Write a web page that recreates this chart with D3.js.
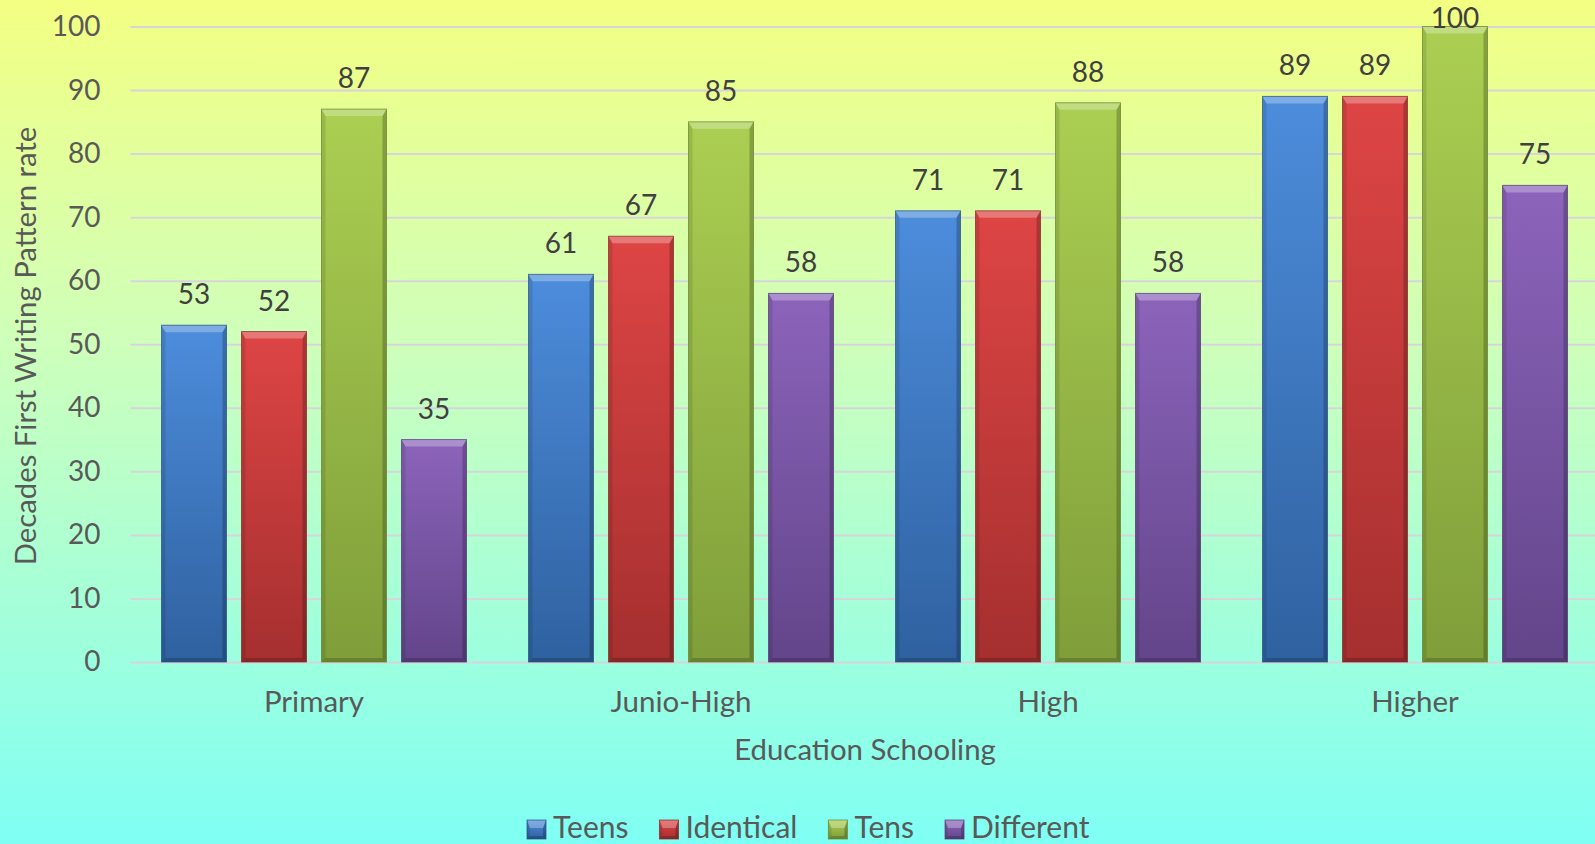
<!DOCTYPE html>
<html>
<head>
<meta charset="utf-8">
<script src="https://cdn.jsdelivr.net/npm/d3@7"></script>
<style>
	html, body { margin: 0; padding: 0; }
	body { width: 1595px; height: 844px; overflow: hidden; }
	svg { display: block; font-family: Lato, "Open Sans", sans-serif; }
</style>
</head>
<body>
<div id="chart"></div>
<script>
"use strict";

// données
const categories = ["Primary", "Junio-High", "High", "Higher"];
const series = ["Teens", "Identical", "Tens", "Different"];
const teens = [53, 61, 71, 89];
const identical = [52, 67, 71, 89];
const tens = [87, 85, 88, 100];
const different = [35, 58, 58, 75];
const yTicks = [0, 10, 20, 30, 40, 50, 60, 70, 80, 90, 100];

const valeurs = [teens, identical, tens, different];
const couleurs = {
	Teens: ["#4d8ddc", "#2f619f"],
	Identical: ["#de4545", "#a52f2f"],
	Tens: ["#abcf52", "#7f9e3a"],
	Different: ["#8c64bb", "#63458a"]
};

const W = 1595, H = 844;
const marge = { left: 130.5, right: 1598.5, top: 26.5, bas: 662 };

const svg = d3.select("#chart").append("svg")
	.attr("width", W)
	.attr("height", H);

const defs = svg.append("defs");

// fond dégradé jaune -> cyan
const fond = defs.append("linearGradient")
	.attr("id", "fond")
	.attr("x1", 0).attr("y1", 0).attr("x2", 0).attr("y2", 1);
fond.append("stop").attr("offset", "0%").attr("stop-color", "#f3ff82");
fond.append("stop").attr("offset", "40%").attr("stop-color", "#cfffba");
fond.append("stop").attr("offset", "100%").attr("stop-color", "#7ffff4");

series.forEach(s => {
	const g = defs.append("linearGradient")
		.attr("id", "grad-" + s)
		.attr("x1", 0).attr("y1", 0).attr("x2", 0).attr("y2", 1);
	g.append("stop").attr("offset", "0%").attr("stop-color", couleurs[s][0]);
	g.append("stop").attr("offset", "100%").attr("stop-color", couleurs[s][1]);
});

svg.append("rect")
	.attr("width", W)
	.attr("height", H)
	.attr("fill", "url(#fond)");

// échelles
const x0 = d3.scaleBand()
	.domain(categories)
	.range([marge.left, marge.right]);

const x1 = d3.scaleBand()
	.domain(series)
	.range([0, x0.bandwidth()])
	.paddingInner(0.1875)
	.paddingOuter(0.3875);

const y = d3.scaleLinear()
	.domain([0, 100])
	.range([marge.bas, marge.top]);

// grille + graduations
const gY = svg.append("g")
	.attr("transform", "translate(" + marge.left + ",0)")
	.call(d3.axisLeft(y)
		.tickValues(yTicks)
		.tickSize(-(marge.right - marge.left))
		.tickPadding(30));
gY.select(".domain").remove();
gY.selectAll("line")
	.attr("stroke", "#d8d4dc")
	.attr("stroke-width", 2);
gY.selectAll("text")
	.attr("fill", "#595959")
	.style("font-size", "28px")
	.style("font-family", "Lato, sans-serif");

const gX = svg.append("g")
	.attr("transform", "translate(0," + marge.bas + ")")
	.call(d3.axisBottom(x0)
		.tickSize(0)
		.tickPadding(29));
gX.select(".domain").remove();
gX.selectAll("text")
	.attr("fill", "#595959")
	.style("font-size", "29.5px")
	.style("font-family", "Lato, sans-serif");

// barre biseautée
function biseau(g, x, yh, w, h, s, haut, cote) {
	g.append("rect")
		.attr("x", x).attr("y", yh)
		.attr("width", w).attr("height", h)
		.attr("fill", "url(#grad-" + s + ")");
	const poly = (pts, fill) => g.append("polygon")
		.attr("points", pts.map(p => p.join(",")).join(" "))
		.attr("fill", fill);
	const b = yh + h;
	poly([[x, yh], [x + cote, yh + haut], [x + cote, b - cote], [x, b]], "rgba(0,0,0,0.10)");
	poly([[x + w, yh], [x + w - cote, yh + haut], [x + w - cote, b - cote], [x + w, b]], "rgba(0,0,0,0.22)");
	poly([[x, b], [x + cote, b - cote], [x + w - cote, b - cote], [x + w, b]], "rgba(0,0,0,0.18)");
	poly([[x, yh], [x + w, yh], [x + w - cote, yh + haut], [x + cote, yh + haut]], "rgba(255,255,255,0.28)");
	g.append("rect")
		.attr("x", x).attr("y", yh)
		.attr("width", w).attr("height", h)
		.attr("fill", "none")
		.attr("stroke", d3.color(couleurs[s][1]).darker(0.6))
		.attr("stroke-opacity", 0.7)
		.attr("stroke-width", 1);
}

// barres
const gBarres = svg.append("g").attr("class", "barres");
categories.forEach((c, i) => {
	series.forEach((s, j) => {
		const v = valeurs[j][i];
		const g = gBarres.append("g");
		biseau(g, x0(c) + x1(s), y(v), x1.bandwidth(), y(0) - y(v), s, 7, 4);
		svg.append("text")
			.attr("x", x0(c) + x1(s) + x1.bandwidth() / 2)
			.attr("y", Math.max(y(v) - 21, 28))
			.attr("text-anchor", "middle")
			.attr("fill", "#404040")
			.style("font-size", "28px")
			.text(v);
	});
});

// titres des axes
svg.append("text")
	.attr("transform", "translate(36,346) rotate(-90)")
	.attr("text-anchor", "middle")
	.attr("fill", "#595959")
	.style("font-size", "29.3px")
	.text("Decades First Writing Pattern rate");

svg.append("text")
	.attr("x", 865)
	.attr("y", 760)
	.attr("text-anchor", "middle")
	.attr("fill", "#595959")
	.style("font-size", "29.4px")
	.text("Education Schooling");

// légende
const gLeg = svg.append("g").attr("class", "legende")
	.attr("transform", "translate(527,0)");
let xl = 0;
series.forEach(s => {
	const g = gLeg.append("g").attr("transform", "translate(" + xl + ",0)");
	biseau(g, 0, 820, 19, 19, s, 8, 3);
	const t = g.append("text")
		.attr("x", 26)
		.attr("y", 838)
		.attr("fill", "#595959")
		.style("font-size", "30px")
		.text(s);
	xl += 26 + t.node().getComputedTextLength() + 31;
});
</script>
</body>
</html>
